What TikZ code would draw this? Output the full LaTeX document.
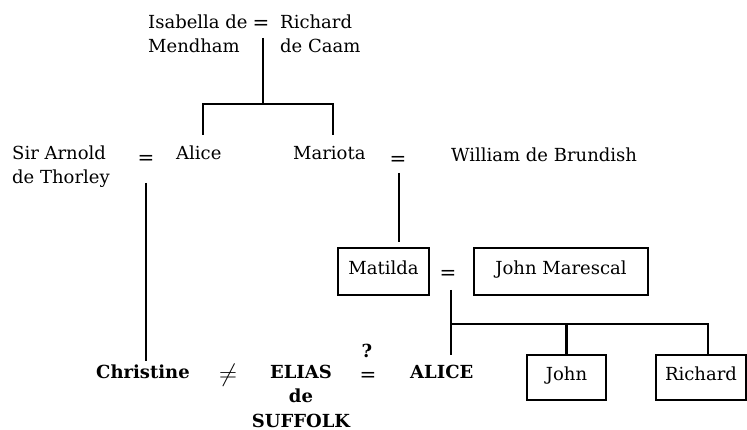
\documentclass[tikz,border=0pt]{standalone}
\usepackage{fontspec}
\setmainfont{DejaVu Serif}
\begin{document}
\begin{tikzpicture}[x=1pt,y=-1pt,
  lbl/.style={inner sep=0pt, font=\fontsize{18}{24.5}\selectfont},
  boldlbl/.style={inner sep=0pt, font=\fontsize{18}{24.5}\selectfont\bfseries},
  eqsign/.style={inner sep=0pt, font=\fontsize{20}{24}\selectfont},
  person/.style={draw, line width=2.4pt, inner sep=0pt, text height=12pt, text depth=6pt,
    font=\fontsize{18}{24.5}\selectfont},
  link/.style={line width=2.4pt}]
\useasboundingbox (0,0) rectangle (747,430);

% first generation (base anchor sits on the last line)
\node[lbl, anchor=base west, align=left] (isabella) at (148,53) {Isabella de\\Mendham};
\node[eqsign] (eqtop) at (261,25) {=};
\node[lbl, anchor=base west, align=left] (richard) at (280,53) {Richard\\de Caam};

% second generation
\node[lbl, anchor=base west, align=left] (arnold) at (12,184) {Sir Arnold\\de Thorley};
\node[eqsign] (eqA) at (146,160) {=};
\node[lbl, anchor=base west] (alice) at (176,160) {Alice};
\node[lbl, anchor=base west] (mariota) at (293,160) {Mariota};
\node[eqsign] (eqM) at (398,161) {=};
\node[lbl, anchor=base west] (william) at (451,162) {William de Brundish};

% third generation
\node[person, minimum width=91pt, minimum height=47pt] (matilda) at (383.5,271.5) {Matilda};
\node[eqsign] (eqMJ) at (448,275) {=};
\node[person, minimum width=174pt, minimum height=47pt] (marescal) at (561,271.5) {John Marescal};

% fourth generation
\node[boldlbl, anchor=base west] (christine) at (96,378) {Christine};
\node[eqsign, font=\fontsize{24}{24}\selectfont] (neq) at (228,375) {$\not=$};
\node[boldlbl, anchor=base, align=center] (elias) at (301,427) {ELIAS\\de\\SUFFOLK};
\node[boldlbl] (query) at (367,351) {?};
\node[eqsign] (eqEA) at (368,377) {=};
\node[boldlbl, anchor=base west] (aliceB) at (410,378) {ALICE};
\node[person, minimum width=79pt, minimum height=45pt] (john) at (566.5,377.5) {John};
\node[person, minimum width=90pt, minimum height=45pt] (richardb) at (701,377.5) {Richard};

% line junctions
\coordinate (topdrop) at (263,38);
\coordinate (jtop) at (263,104);
\coordinate (jAlice) at (203,104);
\coordinate (jMariota) at (333,104);
\coordinate (dAlice) at (203,135);
\coordinate (dMariota) at (333,135);
\coordinate (dArnold) at (146,183);
\coordinate (eChristine) at (146,361);
\coordinate (dWilliam) at (399,173);
\coordinate (eMatilda) at (399,242);
\coordinate (dMarescal) at (451,290);
\coordinate (jKids) at (451,324);
\coordinate (eAlice) at (451,355);
\coordinate (jRichard) at (708,324);

% descent lines
\draw[link] (topdrop) -- (jtop);
\draw[link] (dAlice) -- (jAlice) -- (jMariota) -- (dMariota);
\draw[link] (dArnold) -- (eChristine);
\draw[link] (dWilliam) -- (eMatilda);
\draw[link] (dMarescal) -- (eAlice);
\draw[link] (jKids) -- (jRichard) -- (jRichard |- richardb.north);
\draw[link] (jKids -| john.north) -- (john.north);
\end{tikzpicture}
\end{document}
